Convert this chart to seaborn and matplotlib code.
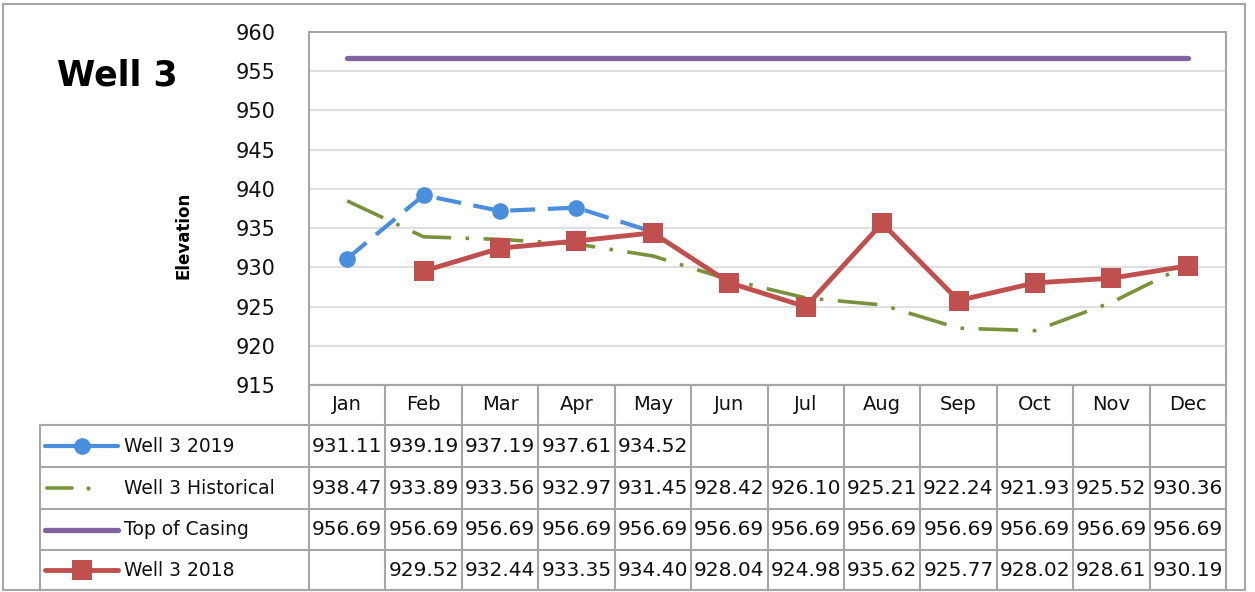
import numpy as np
import pandas as pd
import matplotlib
matplotlib.use("Agg")
import matplotlib.pyplot as plt
from matplotlib.lines import Line2D
from matplotlib.patches import Rectangle
import seaborn as sns

# chart data
months = ["Jan", "Feb", "Mar", "Apr", "May", "Jun", "Jul", "Aug", "Sep", "Oct", "Nov", "Dec"]
well_2019 = [931.11, 939.19, 937.19, 937.61, 934.52] + [np.nan] * 7
well_hist = [938.47, 933.89, 933.56, 932.97, 931.45, 928.42, 926.10, 925.21, 922.24, 921.93, 925.52, 930.36]
top_casing = [956.69] * 12
well_2018 = [np.nan, 929.52, 932.44, 933.35, 934.40, 928.04, 924.98, 935.62, 925.77, 928.02, 928.61, 930.19]
y_ticks = [915, 920, 925, 930, 935, 940, 945, 950, 955, 960]

series_names = ["Well 3 2019", "Well 3 Historical", "Top of Casing", "Well 3 2018"]
series_vals = [well_2019, well_hist, top_casing, well_2018]

df = pd.DataFrame({"idx": range(12), "month": months,
                   "w2019": well_2019, "hist": well_hist,
                   "casing": top_casing, "w2018": well_2018})

sns.set_style("white")
plt.rcParams["font.family"] = ["DejaVu Sans"]
plt.rcParams["text.color"] = "black"
plt.rcParams["ytick.color"] = "black"

W, H = 1255, 592
fig = plt.figure(figsize=(W / 100, H / 100), dpi=100)

# plot area in pixel terms
L, R, T, B = 309, 1226, 32, 385
ax = fig.add_axes([L / W, 1 - B / H, (R - L) / W, (B - T) / H])

blue = "#4a8ede"
green = "#77933c"
purple = "#8064a2"
red = "#c0504d"
grid_c = "#d9d9d9"
edge_c = "#a6a6a6"

styles = [
    dict(color=blue, lw=3, dashes=(6, 3), marker="o", ms=12),
    dict(color=green, lw=2.6, dashes=(11, 4, 1, 4), marker=None, ms=0),
    dict(color=purple, lw=3.8, dashes=(1, 0), marker=None, ms=0),
    dict(color=red, lw=3.5, dashes=(1, 0), marker="s", ms=14),
]
cols = ["w2019", "hist", "casing", "w2018"]

for col, st in zip(cols, styles):
    sns.lineplot(data=df, x="idx", y=col, ax=ax, color=st["color"], lw=st["lw"],
                 marker=st["marker"], markersize=st["ms"], markeredgewidth=0,
                 dashes=False, sort=False)
    ln = ax.lines[-1]
    if st["dashes"] != (1, 0):
        ln.set_dashes(st["dashes"])
    ln.set_solid_capstyle("round")
    ln.set_dash_capstyle("butt")

ax.set_xlim(-0.5, 11.5)
ax.set_ylim(915, 960)
ax.set_yticks(y_ticks)
ax.set_yticklabels([str(t) for t in y_ticks], fontsize=15, color="#111111")
ax.tick_params(axis="y", length=0, pad=24)
ax.set_xticks([])
ax.set_xlabel("")
ax.set_ylabel("")
ax.yaxis.grid(True, color=grid_c, lw=1.2)
ax.set_axisbelow(True)
for s in ax.spines.values():
    s.set_color(edge_c)
    s.set_linewidth(1.5)


def fx(x):
    return x / W


def fy(y):
    return 1 - y / H


def hline(x0, x1, y, c=edge_c, lw=1.5):
    fig.add_artist(Line2D([fx(x0), fx(x1)], [fy(y), fy(y)], color=c, lw=lw))


def vline(x, y0, y1, c=edge_c, lw=1.5):
    fig.add_artist(Line2D([fx(x), fx(x)], [fy(y0), fy(y1)], color=c, lw=lw))


# outer frame
fig.add_artist(Rectangle((fx(3), fy(590)), fx(1245) - fx(3), fy(4) - fy(590),
                         fill=False, edgecolor=edge_c, lw=1.5))

# title and axis label
fig.text(fx(57), fy(75), "Well 3", fontsize=25, fontweight="bold", va="center", ha="left",
         color="black")
fig.text(fx(183), fy(235), "Elevation", fontsize=12, fontweight="bold",
         rotation=90, va="center", ha="center", color="black")

# data table
col_w = (R - L) / 12
edges = [L + i * col_w for i in range(13)]
rows = [385, 425, 467, 509, 550, 590]
leg_left = 40

hline(L, R, rows[0])
for yy in rows[1:]:
    hline(leg_left, R, yy)
for i, xx in enumerate(edges):
    vline(xx, rows[0], rows[-1])
vline(leg_left, rows[1], rows[-1])

for i, m in enumerate(months):
    cx = (edges[i] + edges[i + 1]) / 2
    fig.text(fx(cx), fy((rows[0] + rows[1]) / 2), m, fontsize=14,
             ha="center", va="center", color="#111111")

for r, (name, vals, st) in enumerate(zip(series_names, series_vals, styles)):
    cy = (rows[r + 1] + rows[r + 2]) / 2
    # legend key
    if st["dashes"] != (1, 0) and st["marker"] is None:
        fig.add_artist(Line2D([fx(47), fx(72)], [fy(cy), fy(cy)], color=st["color"],
                              lw=st["lw"], solid_capstyle="round"))
        fig.add_artist(Line2D([fx(88)], [fy(cy)], color=st["color"], marker="o",
                              ms=3, mew=0, lw=0))
    else:
        fig.add_artist(Line2D([fx(45), fx(118)], [fy(cy), fy(cy)], color=st["color"],
                              lw=st["lw"], solid_capstyle="round"))
    if st["marker"]:
        fig.add_artist(Line2D([fx(82)], [fy(cy)], color=st["color"], marker=st["marker"],
                              ms=st["ms"], mew=0, lw=0))
    fig.text(fx(124), fy(cy), name, fontsize=13.5, ha="left", va="center", color="#111111")
    for i, v in enumerate(vals):
        if np.isnan(v):
            continue
        cx = (edges[i] + edges[i + 1]) / 2
        fig.text(fx(cx), fy(cy), f"{v:.2f}", fontsize=14.5, ha="center", va="center",
                 color="#111111")

fig.savefig("out.png", dpi=100, facecolor="white")
